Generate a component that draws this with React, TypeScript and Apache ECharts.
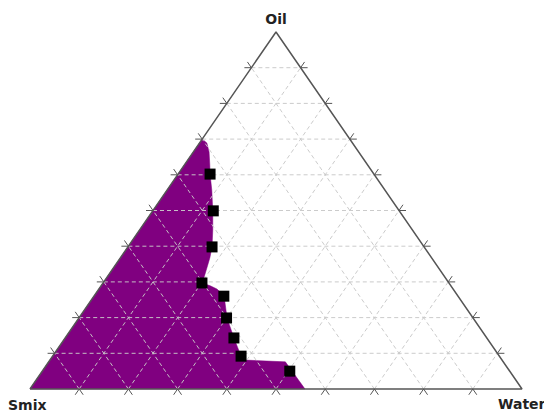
import React, { useEffect, useRef } from "react";
import * as echarts from "echarts";

// Ternary compositions in percent (Oil, Water); Smix = 100 - Oil - Water
const regionOil = [0, 70, 68.9, 66.4, 62.7, 60.2, 55.7, 49.9, 44.5, 39.8, 36.7, 33.9, 31.4, 29.7, 28.9, 28.0, 26.1, 19.9, 14.3, 9.2, 8.1, 7.6, 0];
const regionWater = [0, 0, 1.5, 3.2, 5.2, 6.5, 9.1, 12.2, 14.9, 17.1, 18.2, 19.0, 19.7, 20.1, 22.2, 24.0, 26.4, 30.1, 34.3, 38.3, 39.8, 48.1, 55.9];

const pointOil = [60.2, 49.9, 39.8, 29.7, 26.0, 19.9, 14.3, 9.2, 5.0];
const pointWater = [6.5, 12.3, 17.1, 20.1, 26.4, 30.0, 34.3, 38.3, 50.3];

const gridFractions = [10, 20, 30, 40, 50, 60, 70, 80, 90];
const vertexNames = ["Oil", "Smix", "Water"];

const toXY = (oil: number, water: number) => [water + oil / 2, oil];

export default function App() {
  const ref = useRef<HTMLDivElement>(null);

  useEffect(() => {
    if (!ref.current) return;
    const chart = echarts.init(ref.current, null, { renderer: "svg" });

    const gridColor = "rgba(200,200,200,0.95)";
    const labelFont = "bold 14px 'DejaVu Sans', Verdana, sans-serif";

    const option: any = {
      animation: false,
      backgroundColor: "#ffffff",
      grid: { left: 30, right: 22, top: 32, bottom: 23, containLabel: false },
      xAxis: { type: "value", min: 0, max: 100, show: false },
      yAxis: { type: "value", min: 0, max: 100, show: false },
      graphic: [
        {
          type: "text",
          x: 276,
          y: 19,
          style: { text: vertexNames[0], textAlign: "center", textVerticalAlign: "middle", font: labelFont, fill: "#222" },
        },
        {
          type: "text",
          x: 8,
          y: 405,
          style: { text: vertexNames[1], textAlign: "left", textVerticalAlign: "middle", font: labelFont, fill: "#222" },
        },
        {
          type: "text",
          x: 498,
          y: 404,
          style: { text: vertexNames[2], textAlign: "left", textVerticalAlign: "middle", font: labelFont, fill: "#222" },
        },
      ],
      series: [
        {
          type: "custom",
          z: 1,
          clip: false,
          silent: true,
          data: [0],
          renderItem: (_p: any, api: any) => {
            const pts = regionOil.map((o, i) => api.coord(toXY(o, regionWater[i])));
            return {
              type: "polygon",
              shape: { points: pts },
              style: { fill: "#800080", stroke: "#800080", lineWidth: 0.5 },
            };
          },
        },
        {
          type: "custom",
          z: 2,
          clip: false,
          silent: true,
          data: gridFractions,
          renderItem: (params: any, api: any) => {
            const c = gridFractions[params.dataIndex];
            const segs = [
              [toXY(c, 0), toXY(c, 100 - c)],
              [toXY(0, c), toXY(100 - c, c)],
              [toXY(0, 100 - c), toXY(100 - c, 0)],
            ];
            return {
              type: "group",
              children: segs.map((s) => {
                const a = api.coord(s[0]);
                const b = api.coord(s[1]);
                return {
                  type: "line",
                  shape: { x1: a[0], y1: a[1], x2: b[0], y2: b[1] },
                  style: { stroke: gridColor, lineWidth: 1, lineDash: [4, 3] },
                };
              }),
            };
          },
        },
        {
          type: "custom",
          z: 3,
          clip: false,
          silent: true,
          data: gridFractions,
          renderItem: (params: any, api: any) => {
            const c = gridFractions[params.dataIndex];
            const L = 7;
            const sets = [
              [[0, c], [100 - c, c], [c, 0]],
              [[c, 0], [c, 100 - c], [0, c]],
              [[c, 100 - c], [c, 0], [0, 100 - c]],
            ];
            const children: any[] = [];
            sets.forEach((set) => {
              const p = api.coord(toXY(set[0][0], set[0][1]));
              for (let k = 1; k < 3; k++) {
                const q = api.coord(toXY(set[k][0], set[k][1]));
                const dx = q[0] - p[0];
                const dy = q[1] - p[1];
                const len = Math.sqrt(dx * dx + dy * dy) || 1;
                children.push({
                  type: "line",
                  shape: { x1: p[0], y1: p[1], x2: p[0] - (dx / len) * L, y2: p[1] - (dy / len) * L },
                  style: { stroke: "#555", lineWidth: 1 },
                });
              }
            });
            return { type: "group", children };
          },
        },
        {
          type: "line",
          z: 4,
          clip: false,
          silent: true,
          symbol: "none",
          data: [toXY(0, 0), toXY(0, 100), toXY(100, 0), toXY(0, 0)],
          lineStyle: { color: "#555", width: 1.5 },
        },
        {
          type: "scatter",
          z: 5,
          silent: true,
          symbol: "rect",
          symbolSize: 11,
          data: pointOil.map((o, i) => toXY(o, pointWater[i])),
          itemStyle: { color: "#000", opacity: 1 },
        },
      ],
    };

    chart.setOption(option);
    return () => chart.dispose();
  }, []);

  return <div ref={ref} style={{ position: "fixed", left: 0, top: 0, width: 544, height: 412 }} />;
}
